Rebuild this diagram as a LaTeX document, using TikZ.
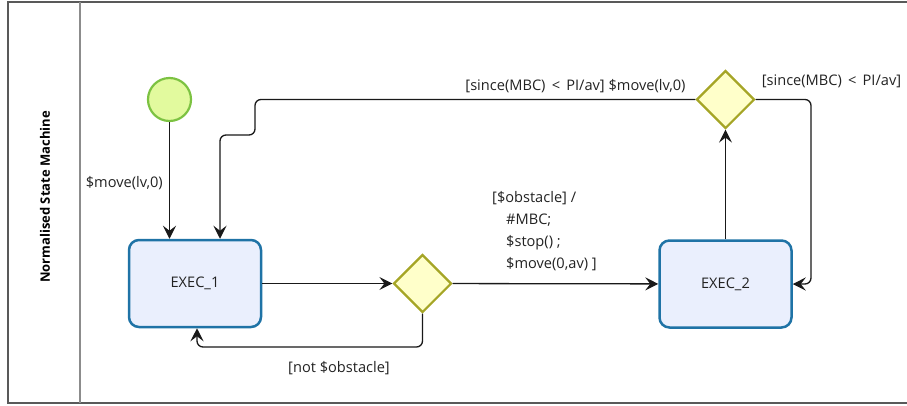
\documentclass[tikz,border=0pt]{standalone}
\usepackage{fontspec}
\setmainfont{Open Sans}
\usetikzlibrary{shapes.geometric,arrows.meta}

\definecolor{startfill}{HTML}{E2FA9E}
\definecolor{startline}{HTML}{7CC242}
\definecolor{statefill}{HTML}{EAEFFD}
\definecolor{stateline}{HTML}{1F73A6}
\definecolor{choicefill}{HTML}{FFFFCA}
\definecolor{choiceline}{HTML}{A5A526}
\definecolor{textgray}{HTML}{222222}

\begin{document}
\begin{tikzpicture}[x=1pt, y=-1pt,
	every node/.style={font=\fontsize{14.6}{17}\selectfont, text=textgray},
	state/.style={rounded corners=10pt, draw=stateline, fill=statefill, line width=2.5pt, minimum width=132pt, minimum height=87pt},
	choice/.style={diamond, aspect=1, draw=choiceline, fill=choicefill, line width=2.2pt, minimum size=58pt, inner sep=0pt},
	flow/.style={-{Stealth[length=13pt, width=13pt, inset=5pt]}, line width=1.3pt, black!90, rounded corners=6pt}]
	\useasboundingbox (0, 0) rectangle (907, 405);
	\draw[line width=1.6pt, black!65] (8, 2) rectangle (912, 403);
	\draw[line width=1.6pt, black!45] (80, 2) -- (80, 403);
	\node[rotate=90, font=\fontsize{13}{15}\selectfont\bfseries, text=black] (lane) at (45, 197) {Normalised State Machine};
	
	\node[circle, draw=startline, fill=startfill, line width=2.2pt, minimum size=43pt, inner sep=0pt] (start) at (169.5, 99.5) {};
	\node[state] (exec-1) at (195, 283.5) {EXEC\_1};
	\node[state] (exec-2) at (725.5, 284) {EXEC\_2};
	\node[choice] (choice-1) at (422.5, 283.5) {};
	\node[choice] (choice-2) at (725.5, 99.5) {};
	
	\draw[flow] (start) -- (start |- exec-1.north);
	\node[anchor=east, inner sep=1pt] (move-label) at (164, 183) {\$move(lv,0)};
	
	\draw[flow] (exec-1) -- (choice-1);
	\draw[flow] (choice-1) -- (exec-2);
	\node[anchor=north west, align=left, inner sep=0pt, font=\fontsize{14.6}{22}\selectfont] (obstacle-label) at (492, 191)
		{[\$obstacle] /\\ \hspace*{14pt}\#MBC;\\ \hspace*{14pt}\$stop() ;\\ \hspace*{14pt}\$move(0,av) ]};
	
	\coordinate (back) at (197, 347);
	\draw[flow] (choice-1.south) |- (back) -- (back |- exec-1.south);
	\node (not-label) at (339, 368) {[not \$obstacle]};
	
	\draw[flow] (exec-2) -- (choice-2);
	
	\coordinate (jog-a) at (255, 99.5);
	\coordinate (jog-b) at (220, 135);
	\draw[flow] (choice-2.west) -- (jog-a) |- (jog-b) -- (exec-1.north -| jog-b);
	\node (since-move-label) at (575.5, 86) {[since(MBC) \,<\, PI/av] \$move(lv,0)};
	
	\coordinate (loop-r) at (811, 99.5);
	\draw[flow] (choice-2.east) -- (loop-r) |- (exec-2.east);
	\node (since-label) at (831.5, 81) {[since(MBC) \,<\, PI/av]};
\end{tikzpicture}
\end{document}
